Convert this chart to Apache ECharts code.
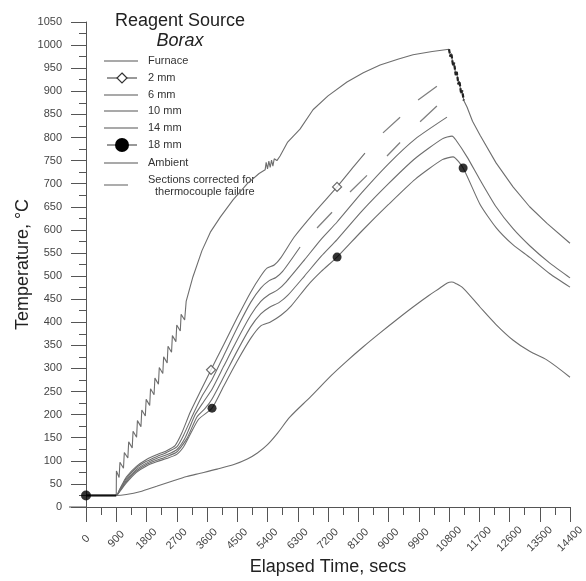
<!DOCTYPE html>
<html><head><meta charset="utf-8">
<script src="https://cdn.jsdelivr.net/npm/echarts@6/dist/echarts.min.js"></script>
<style>html,body{margin:0;padding:0;background:#fff}#c{width:586px;height:581px}</style>
</head><body><div id="c"></div>
<script>
// ---- data (elapsed seconds, °C) ----
const xTicks = [0,900,1800,2700,3600,4500,5400,6300,7200,8100,9000,9900,10800,11700,12600,13500,14400];
const furnace = [[0,25],[900,25],[905,78],[985,64],[1010,97],[1115,84],[1140,118],[1245,106],[1270,141],[1375,128],[1400,164],[1505,151],[1530,187],[1635,174],[1660,210],[1765,197],[1790,233],[1895,220],[1920,256],[2025,243],[2050,279],[2155,266],[2180,302],[2285,289],[2310,325],[2415,312],[2440,348],[2545,335],[2570,371],[2675,358],[2700,394],[2805,381],[2830,417],[2935,405],[2980,445],[3180,498],[3450,555],[3700,595],[4000,628],[4374,665],[4800,700],[5150,722],[5330,730],[5360,746],[5400,732],[5440,749],[5480,735],[5520,751],[5560,738],[5600,754],[5680,750],[5774,760],[6000,790],[6367,818],[6754,860],[7200,890],[7765,920],[8250,940],[8750,957],[9300,970],[9730,979],[10300,986],[10800,991],[10840,975],[10870,982],[10920,955],[10950,962],[11000,935],[11030,942],[11080,915],[11110,922],[11160,895],[11190,902],[11240,880],[11336,866],[11500,835],[11725,805],[12200,745],[12705,693],[13200,650],[13716,614],[14400,571]];
const furnaceDrop = [[10800,991],[10840,975],[10870,982],[10920,955],[10950,962],[11000,935],[11030,942],[11080,915],[11110,922],[11160,895],[11190,902],[11240,880]];
const mm2 = [[0,25],[900,25],[1000,38],[1200,65],[1500,88],[1800,103],[2100,113],[2400,122],[2650,133],[2850,160],[3100,205],[3400,250],[3720,297],[4100,352],[4500,410],[4900,465],[5200,500],[5385,517],[5600,524],[5800,540],[6200,585],[6800,638],[7470,693],[8000,740],[8300,766]];
const mm6 = [[0,25],[900,25],[1000,37],[1200,62],[1500,85],[1800,99],[2100,109],[2400,118],[2700,130],[2900,155],[3200,203],[3450,240],[3750,276],[4100,328],[4500,388],[4900,443],[5200,474],[5450,490],[5650,497],[5850,510],[6370,563]];
const mm10 = [[0,25],[900,25],[1000,35],[1200,58],[1500,81],[1800,95],[2100,105],[2400,113],[2700,124],[2950,150],[3250,200],[3500,228],[3750,255],[4100,305],[4500,362],[4900,415],[5200,445],[5450,460],[5700,470],[5950,487],[6500,535],[7000,580],[7470,617],[8200,680],[9000,743],[9800,797],[10740,844]];
const mm14 = [[0,25],[900,25],[1000,34],[1200,55],[1500,78],[1800,92],[2100,101],[2400,109],[2700,119],[3000,148],[3300,195],[3550,214],[3750,234],[4100,282],[4500,338],[4900,390],[5200,418],[5450,432],[5750,443],[6000,458],[6500,500],[7000,543],[7470,579],[8200,640],[9000,700],[9800,755],[10600,797],[10890,803],[11000,795],[11336,758],[11725,708],[12200,650],[12700,603],[13210,565],[13800,528],[14400,496]];
const mm18 = [[0,25],[900,25],[1000,33],[1200,52],[1500,75],[1800,89],[2100,98],[2400,105],[2700,114],[2900,130],[3050,150],[3350,190],[3750,214],[4100,262],[4500,316],[4900,365],[5200,392],[5475,400],[5800,415],[6100,435],[6600,480],[7000,510],[7470,541],[8200,597],[9000,655],[9800,710],[10600,752],[10920,758],[11220,734],[11725,655],[12200,605],[12700,568],[13210,540],[13800,505],[14400,476]];
const ambient = [[0,25],[900,25],[1200,27],[1600,33],[2100,45],[2600,57],[3000,66],[3400,73],[3900,82],[4400,92],[4800,104],[5100,117],[5400,135],[5700,160],[6070,195],[6700,240],[7300,285],[7760,316],[8250,347],[8750,377],[9250,406],[9730,433],[10200,458],[10530,474],[10750,485],[10880,487],[11000,484],[11220,474],[11720,433],[12200,395],[12710,361],[13200,337],[13720,318],[14400,281]];
const corrected2mm = [[8836,810],[9345,844],null,[9880,881],[10440,911]];
const corrected6mm = [[6874,604],[7320,638],null,[7855,682],[8360,718],null,[8955,760],[9345,789],null,[9940,834],[10440,868]];
const diamonds = [[3720,297],[7470,693]];
const dots = [[3750,214],[7470,541],[11220,734]];
const originDot = [[0,25]];
const legendNames = ['Furnace','2 mm','6 mm','10 mm','14 mm','18 mm','Ambient'];

const chart = echarts.init(document.getElementById('c'));
const FONT = 'Liberation Sans, Arial, sans-serif';
const LC = '#6e6e6e';
function line(name, data, extra) {
  return Object.assign({name, type:'line', data, symbol:'none', smooth:false, connectNulls:false,
    lineStyle:{color:LC, width:1.1}, z:3, animation:false}, extra||{});
}
const lgX1 = 104, lgX2 = 138, lgT = 148;
const lgY = [61,78,95,111,128,145,163];
const graphics = [
  {type:'text', style:{text:'Reagent Source', x:180, y:21, textAlign:'center', textVerticalAlign:'middle', font:'18px '+FONT, fill:'#222'}},
  {type:'text', style:{text:'Borax', x:180, y:41, textAlign:'center', textVerticalAlign:'middle', font:'italic 18px '+FONT, fill:'#222'}},
  {type:'line', shape:{x1:69,y1:507,x2:86,y2:507}, style:{stroke:'#555', lineWidth:1}}
];
legendNames.forEach((n,i)=>{
  graphics.push({type:'line', shape:{x1:(i==1||i==5)?107:lgX1, y1:lgY[i], x2:(i==1||i==5)?137:lgX2, y2:lgY[i]}, style:{stroke:'#555', lineWidth:1.2}});
  graphics.push({type:'text', style:{text:n, x:lgT, y:lgY[i], textVerticalAlign:'middle', font:'11px '+FONT, fill:'#333'}});
});
graphics.push({type:'polygon', shape:{points:[[122,73],[127,78],[122,83],[117,78]]}, style:{fill:'#fff', stroke:'#333', lineWidth:1.2}});
graphics.push({type:'circle', shape:{cx:122, cy:145, r:7}, style:{fill:'#000'}});
graphics.push({type:'line', shape:{x1:104,y1:185,x2:128,y2:185}, style:{stroke:'#777', lineWidth:1.2}});
graphics.push({type:'text', style:{text:'Sections corrected for', x:148, y:180, textVerticalAlign:'middle', font:'11px '+FONT, fill:'#333'}});
graphics.push({type:'text', style:{text:'thermocouple failure', x:155, y:192, textVerticalAlign:'middle', font:'11px '+FONT, fill:'#333'}});

chart.setOption({
  animation:false,
  backgroundColor:'#fff',
  grid:{left:86, right:16, top:22, bottom:74, containLabel:false, outerBoundsMode:'none'},
  xAxis:{type:'value', min:0, max:14400, interval:900,
    name:'Elapsed Time, secs', nameLocation:'middle', nameGap:51, nameMoveOverlap:false,
    nameTextStyle:{fontFamily:FONT, fontSize:18, color:'#222'},
    axisLine:{lineStyle:{color:'#555', width:1}},
    axisTick:{inside:false, length:15, lineStyle:{color:'#555'}},
    minorTick:{show:true, splitNumber:2, length:8, lineStyle:{color:'#555'}},
    splitLine:{show:false},
    axisLabel:{rotate:45, margin:32, align:'center', verticalAlign:'middle', hideOverlap:false, fontFamily:FONT, fontSize:11, color:'#444',
      formatter:v=>xTicks.indexOf(v)>=0?String(v):''}},
  yAxis:{type:'value', min:0, max:1050, interval:50, offset:3,
    name:'Temperature, °C', nameLocation:'middle', nameGap:51, nameMoveOverlap:false,
    nameTextStyle:{fontFamily:FONT, fontSize:18, color:'#222'},
    axisLine:{show:true, lineStyle:{color:'#555', width:1}},
    axisTick:{show:true, length:15, lineStyle:{color:'#555'}},
    minorTick:{show:true, splitNumber:2, length:7, lineStyle:{color:'#555'}},
    splitLine:{show:false},
    axisLabel:{margin:21, fontFamily:FONT, fontSize:11, color:'#444', formatter:v=>String(v)}},
  graphic:graphics,
  series:[
    line('Furnace', furnace),
    line('FurnaceDrop', furnaceDrop, {lineStyle:{color:'#222', width:2.2, type:[4,2]}, z:4}),
    line('2 mm', mm2, {smooth:0.2}),
    line('6 mm', mm6, {smooth:0.2}),
    line('10 mm', mm10, {smooth:0.2}),
    line('14 mm', mm14, {smooth:0.2}),
    line('18 mm', mm18, {smooth:0.2}),
    line('Ambient', ambient, {smooth:0.3}),
    line('Corrected 2 mm', corrected2mm, {lineStyle:{color:'#808080', width:1.3}}),
    line('Corrected 6 mm', corrected6mm, {lineStyle:{color:'#808080', width:1.3}}),
    {name:'2 mm marks', type:'scatter', data:diamonds, symbol:'diamond', symbolSize:9, itemStyle:{color:'#fff', borderColor:'#444', borderWidth:1.2}, z:6},
    {name:'18 mm marks', type:'scatter', data:dots, symbol:'circle', symbolSize:9, itemStyle:{color:'#000'}, z:6},
    {name:'origin', type:'scatter', data:originDot, symbol:'circle', symbolSize:10, itemStyle:{color:'#000'}, z:6},
    line('start', [[0,25],[900,25]], {lineStyle:{color:'#111', width:2.2}, z:5})
  ]
});
</script></body></html>
